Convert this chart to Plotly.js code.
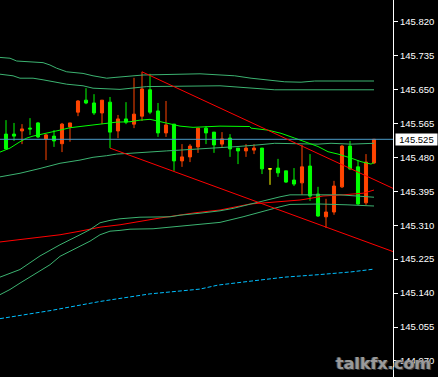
<!DOCTYPE html>
<html>
<head>
<meta charset="utf-8">
<script src="https://cdn.plot.ly/plotly-3.0.1.min.js"></script>
<style>
html,body{margin:0;padding:0;background:#000;}
#chart{width:438px;height:377px;}
</style>
</head>
<body>
<div id="chart"></div>
<script>
// ---- candle data (bar index) ----
var barX   = [-1,0,1,2,3,4,5,6,7,8,9,10,11,12,13,14,15,16,17,18,19,20,21,22,23,24,25,26,27,28,29,30,31,32,34,35,36,37,38,39,40,41,42,43,44,45,46];
var opens  = [145.536,145.538,145.538,145.546,145.553,145.566,145.526,145.533,145.514,145.556,145.593,145.623,145.616,145.591,145.618,145.546,145.576,145.563,145.583,145.649,145.596,145.541,145.563,145.471,145.481,145.506,145.553,145.543,145.513,145.528,145.503,145.496,145.498,145.503,145.453,145.446,145.423,145.416,145.458,145.388,145.331,145.343,145.406,145.508,145.456,145.366,145.466];
var highs  = [145.540,145.573,145.566,145.563,145.578,145.568,145.538,145.548,145.566,145.566,145.623,145.653,145.638,145.623,145.631,145.586,145.618,145.679,145.694,145.689,145.616,145.621,145.563,145.513,145.513,145.553,145.558,145.543,145.543,145.538,145.503,145.513,145.513,145.503,145.476,145.446,145.453,145.511,145.488,145.406,145.376,145.421,145.511,145.521,145.473,145.488,145.526];
var lows   = [145.535,145.501,145.521,145.513,145.536,145.528,145.473,145.506,145.493,145.519,145.583,145.613,145.586,145.563,145.503,145.528,145.563,145.553,145.571,145.588,145.531,145.531,145.446,145.456,145.468,145.491,145.513,145.491,145.506,145.481,145.463,145.481,145.488,145.438,145.431,145.416,145.408,145.386,145.371,145.331,145.303,145.336,145.403,145.448,145.361,145.361,145.463];
var closes = [145.539,145.501,145.533,145.551,145.551,145.531,145.536,145.521,145.563,145.566,145.621,145.616,145.591,145.623,145.543,145.576,145.568,145.588,145.651,145.593,145.541,145.561,145.471,145.481,145.508,145.553,145.541,145.511,145.526,145.501,145.496,145.503,145.503,145.451,145.441,145.418,145.413,145.456,145.383,145.333,145.343,145.408,145.508,145.451,145.363,145.468,145.525];

// doji bar (open == close)
var dojiX = [33], dojiO = [145.451], dojiH = [145.453], dojiL = [145.411], dojiC = [145.451];

// ---- indicator lines ----
var bandAX = [-0.75,0.5,1.34,3.38,4.63,5.5,6.34,7.59,9.63,10.88,12.59,13.63,17.13,24.25,26.75,28.59,30.63,32.75,34.84,36.88,38.59,46];
var bandAY = [145.730,145.728,145.721,145.718,145.717,145.711,145.703,145.694,145.690,145.684,145.678,145.680,145.686,145.689,145.686,145.684,145.678,145.674,145.669,145.668,145.671,145.671];
var bandBX = [-0.75,0.88,1.75,3.38,4.63,5.88,7.59,9.63,10.88,14.25,15.88,17.59,26.75,30.63,33.59,46];
var bandBY = [145.688,145.684,145.678,145.678,145.674,145.669,145.663,145.659,145.653,145.650,145.653,145.657,145.659,145.653,145.649,145.649];
var midX = [-0.75,1.75,4.25,6.75,9.25,10.88,12.59,13.84,15.5,18,20.09,21.75,24.25,26.75,29,31.5,33.59,39,40.63,43.13,46];
var midY = [145.431,145.440,145.452,145.465,145.473,145.480,145.484,145.488,145.490,145.494,145.496,145.498,145.501,145.503,145.507,145.511,145.515,145.513,145.515,145.513,145.515];
var maX = [-0.75,0.5,1.75,2.59,3.38,5.09,6.75,8,9.63,11.34,12.59,13.84,15.5,16.75,18,19.25,21.75,23.38,26.75,30.46,30.63,32.75,34.38,36.09,37.34,39,40.25,41.5,43.13,44.38,45.63,46];
var maY = [145.493,145.503,145.519,145.528,145.533,145.540,145.548,145.554,145.558,145.561,145.565,145.568,145.569,145.573,145.575,145.569,145.558,145.555,145.558,145.557,145.553,145.548,145.540,145.528,145.519,145.507,145.494,145.488,145.478,145.469,145.463,145.467];
var bandCX = [-0.75,1.75,4.25,6.75,9.25,10.5,11.75,13,14.25,16.75,20.5,21.75,24.25,26.75,28.38,30.5,32.63,34.25,35.5,41.75,46];
var bandCY = [145.180,145.199,145.233,145.261,145.286,145.299,145.316,145.322,145.326,145.330,145.331,145.335,145.340,145.346,145.352,145.363,145.373,145.381,145.386,145.386,145.380];
var bandDX = [-0.75,0.5,1.75,3.38,5.5,6.75,9.25,10.5,11.75,13,14.25,15.5,18.38,20.5,24.25,26.75,29.63,32.63,34.25,35.5,39.25,42.63,46];
var bandDY = [145.136,145.149,145.165,145.185,145.211,145.232,145.257,145.270,145.286,145.295,145.297,145.300,145.301,145.305,145.311,145.317,145.331,145.348,145.356,145.362,145.363,145.361,145.358];
var redMaX = [-0.75,1.75,4.25,6.75,9.25,11.75,14.25,16.75,19.25,23.63,26.75,30.5,34.25,36.75,38,39.63,42.13,44.63,46];
var redMaY = [145.268,145.274,145.280,145.286,145.295,145.305,145.311,145.320,145.328,145.341,145.348,145.363,145.369,145.373,145.377,145.383,145.386,145.390,145.398];
var blueX = [-0.75,5.5,11.75,18,24.25,26.5,30.63,34.88,39,43.13,46];
var blueY = [145.076,145.096,145.119,145.138,145.150,145.160,145.170,145.180,145.186,145.193,145.200];

// channel lines
var chanUpX = [17, 48.5], chanUpY = [145.694, 145.401];
var chanLoX = [13, 48.5], chanLoY = [145.503, 145.243];

// bid line
var bidPrice = 145.525;
var bidX = [-1, 49], bidY = [bidPrice, bidPrice];

// axis ticks
var tickVals = [145.820,145.735,145.650,145.565,145.480,145.395,145.310,145.225,145.140,145.055,144.970];
var tickText = tickVals.map(function(v){return v.toFixed(3);});

var SEA = '#3cb371';
function line(x,y,color,dash){
  return {type:'scatter',mode:'lines',x:x,y:y,hoverinfo:'skip',
    line:{color:color,width:1,dash:dash||'solid',shape:'linear'}};
}

var traces = [
  line(blueX,blueY,'#00bfff','4px,2px'),
  line(redMaX,redMaY,'#ff0000'),
  line(bandCX,bandCY,SEA),
  line(bandDX,bandDY,SEA),
  line(bandAX,bandAY,SEA),
  line(bandBX,bandBY,SEA),
  line(midX,midY,SEA),
  line(maX,maY,'#00ff00'),
  line(bidX,bidY,'#4b9cc9'),
  {type:'candlestick',x:barX,open:opens,high:highs,low:lows,close:closes,
    whiskerwidth:0,hoverinfo:'skip',
    increasing:{line:{color:'#ff4500',width:1},fillcolor:'#ff4500'},
    decreasing:{line:{color:'#00ff00',width:1},fillcolor:'#00ff00'}},
  {type:'candlestick',x:dojiX,open:dojiO,high:dojiH,low:dojiL,close:dojiC,
    whiskerwidth:0,hoverinfo:'skip',
    increasing:{line:{color:'#ffff00',width:1},fillcolor:'#ffff00'},
    decreasing:{line:{color:'#ffff00',width:1},fillcolor:'#ffff00'}},
  line(chanUpX,chanUpY,'#ff0000'),
  line(chanLoX,chanLoY,'#ff0000')
];

var layout = {
  width:438, height:377,
  margin:{l:0,r:45,t:0,b:0,pad:0},
  paper_bgcolor:'#000', plot_bgcolor:'#000',
  showlegend:false, hovermode:false,
  boxgap:0.45,
  xaxis:{range:[-0.75,48.375],visible:false,showgrid:false,zeroline:false,
    rangeslider:{visible:false},fixedrange:true},
  yaxis:{side:'right',range:[144.9299,145.8738],showgrid:false,zeroline:false,
    tickmode:'array',tickvals:tickVals,ticktext:tickText,
    ticks:'outside',ticklen:4,tickcolor:'#ffffff',tickwidth:1,
    showline:true,linecolor:'#ffffff',linewidth:1,
    tickfont:{family:'Liberation Sans, Arial, sans-serif',size:9.5,color:'#ffffff'},
    fixedrange:true},
  annotations:[
    {xref:'paper',x:1,xanchor:'left',xshift:2,yref:'y',y:bidPrice,yanchor:'middle',
     text:bidPrice.toFixed(3),showarrow:false,bgcolor:'#ffffff',borderpad:0,
     width:41,height:11,align:'center',
     font:{family:'Liberation Sans, Arial, sans-serif',size:9.5,color:'#000000'}},
    {xref:'paper',x:1.102,xanchor:'right',yref:'paper',y:0,yanchor:'bottom',yshift:2,
     text:'talkfx.com',showarrow:false,
     font:{family:'DejaVu Sans, sans-serif',size:16,weight:'bold',color:'#9a9a9a',
       shadow:'1px 1px 0px #3a3a3a, -1px 0px 0px #555'}}
  ]
};

Plotly.newPlot('chart',traces,layout,{displayModeBar:false,staticPlot:true});
</script>
</body>
</html>
